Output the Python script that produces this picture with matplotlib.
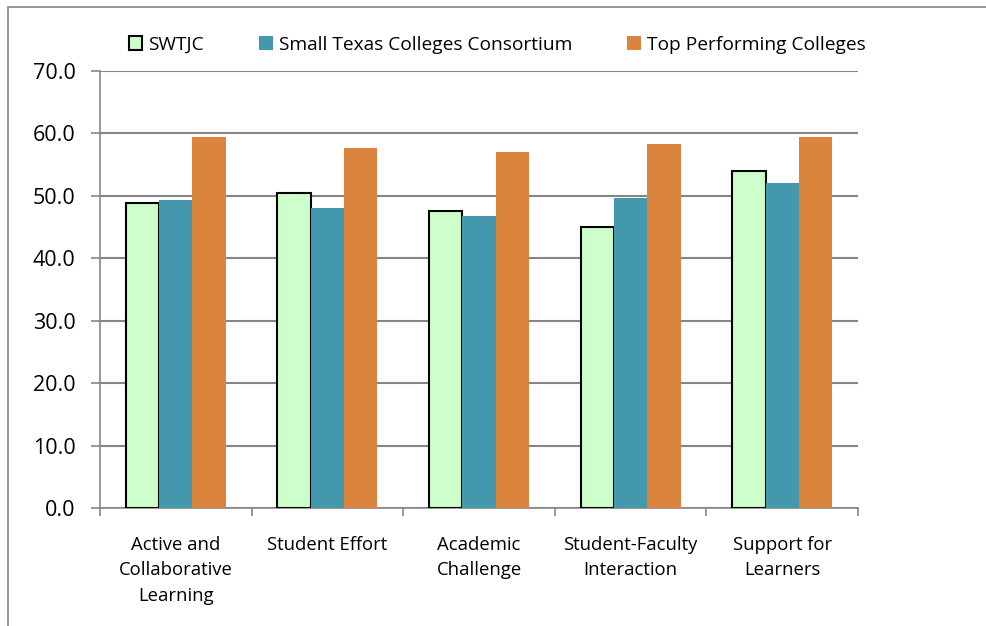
import numpy as np
import matplotlib.pyplot as plt
from matplotlib.patches import Rectangle

categories = ["Active and\nCollaborative\nLearning", "Student Effort", "Academic\nChallenge",
              "Student-Faculty\nInteraction", "Support for\nLearners"]
swtjc = [48.8, 50.5, 47.6, 45.0, 54.0]
stcc = [49.3, 48.0, 46.7, 49.6, 52.1]
top = [59.5, 57.6, 57.1, 58.3, 59.5]
series_names = ["SWTJC", "Small Texas Colleges Consortium", "Top Performing Colleges"]

plt.rcParams['font.family'] = ['Open Sans', 'DejaVu Sans']

fig = plt.figure(figsize=(9.86, 6.26), dpi=100)
ax = fig.add_axes([100/986, 118/626, 758/986, 437/626])

# outer frame of the chart area
fig.patches.append(Rectangle((8/986, -0.01), 1.02, 1.01 - 8/626 + 0.001, transform=fig.transFigure,
                             fill=False, edgecolor='#868686', linewidth=1.2))

x = np.arange(len(categories)) + 0.5
w = 0.22
ax.bar(x - w, swtjc, w, color='#CCFFCC', edgecolor='black', linewidth=1.5, label=series_names[0], zorder=3)
ax.bar(x, stcc, w, color='#4398AE', label=series_names[1], zorder=3)
ax.bar(x + w, top, w, color='#DB843D', label=series_names[2], zorder=3)

ax.set_xlim(0, len(categories))
ax.set_ylim(0, 70)
ax.set_yticks(np.arange(0, 71, 10))
ax.set_yticklabels([f"{v:.1f}" for v in np.arange(0, 71, 10)], fontsize=15.5)
ax.yaxis.grid(True, color='#868686', linewidth=1.5, zorder=0)

ax.set_xticks(np.arange(len(categories) + 1))
ax.set_xticklabels([])
ax.set_xticks(x, minor=True)
ax.set_xticklabels(categories, minor=True, fontsize=13.3, linespacing=1.55)
ax.tick_params(axis='x', which='minor', length=0, pad=20)
ax.tick_params(axis='x', which='major', length=6, color='#868686', width=1.2)
ax.tick_params(axis='y', length=6.5, color='#868686', width=1.2, pad=11)

for s in ['top', 'right']:
    ax.spines[s].set_visible(False)
for s in ['left', 'bottom']:
    ax.spines[s].set_color('#868686')
    ax.spines[s].set_linewidth(1.2)

ax.legend(loc='lower center', bbox_to_anchor=(0.524, 1.0), ncol=3, frameon=False, fontsize=13.8,
          handlelength=0.7, handleheight=0.7, handletextpad=0.3, columnspacing=2.9)

fig.savefig('out.png', dpi=100)
